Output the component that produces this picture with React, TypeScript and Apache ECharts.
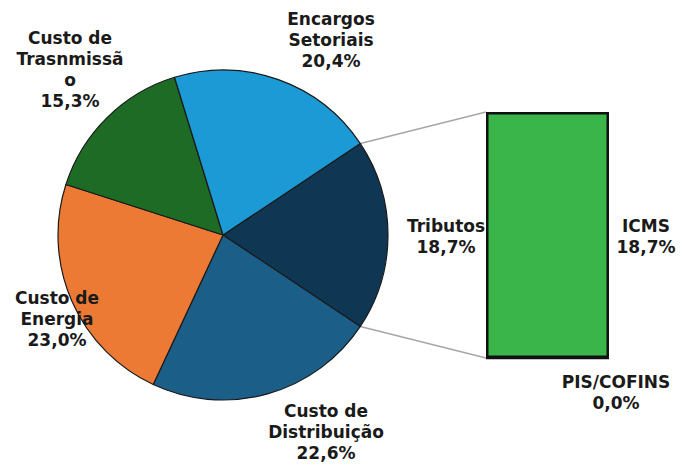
import React, { useEffect, useRef } from "react";
import * as echarts from "echarts";

// Pie categories (clockwise from the exploded "Tributos" slice)
const pieNames = [
  "Tributos",
  "Custo de\nDistribuição",
  "Custo de\nEnergia",
  "Custo de\nTrasnmissã\no",
  "Encargos\nSetoriais",
];
const pieValues = [18.7, 22.6, 23.0, 15.3, 20.4];
const pieColors = ["#0f3652", "#1b5f88", "#ec7a35", "#1e6b26", "#1b9ad6"];

// Breakdown bar of "Tributos"
const barNames = ["PIS/COFINS", "ICMS"];
const barValues = [0.0, 18.7];
const barColor = "#39b54a";

// label anchor centres (px)
const pieLabelPos = [
  [446, 236],
  [326, 432],
  [57, 319],
  [70, 69],
  [331, 40],
];
const barLabelPos = [
  [616, 392],
  [646, 236],
];

const W = 691;
const H = 465;
const CX = 223;
const CY = 235;
const R = 165;
const GRID = { left: 486, top: 112, right: 82, bottom: 107 };

const fmt = (v: number) => v.toFixed(1).replace(".", ",") + "%";

export default function App() {
  const ref = useRef<HTMLDivElement>(null);
  useEffect(() => {
    document.body.style.margin = "0";
    const chart = echarts.init(ref.current!, undefined, { renderer: "svg" });
    const total = pieValues.reduce((a, b) => a + b, 0);
    const half = (pieValues[0] / total) * 360 / 2;
    const rad = (half * Math.PI) / 180;
    const p1 = [CX + R * Math.cos(rad), CY - R * Math.sin(rad)];
    const p2 = [CX + R * Math.cos(rad), CY + R * Math.sin(rad)];
    const barTopLeft = [GRID.left, GRID.top];
    const barBotLeft = [GRID.left, H - GRID.bottom];

    const textStyle = {
      fontFamily: "DejaVu Sans",
      fontWeight: "bold" as const,
      fontSize: 17,
      lineHeight: 21,
      color: "#1a1a1a",
      align: "center" as const,
    };

    chart.setOption({
      animation: false,
      backgroundColor: "#ffffff",
      grid: { ...GRID, containLabel: false },
      xAxis: { type: "category", data: ["Tributos"], show: false },
      yAxis: { type: "value", min: 0, max: pieValues[0], show: false },
      graphic: [
        {
          type: "line",
          z: 0,
          shape: { x1: p1[0], y1: p1[1], x2: barTopLeft[0], y2: barTopLeft[1] },
          style: { stroke: "#a6a6a6", lineWidth: 1.5 },
        },
        {
          type: "line",
          z: 0,
          shape: { x1: p2[0], y1: p2[1], x2: barBotLeft[0], y2: barBotLeft[1] },
          style: { stroke: "#a6a6a6", lineWidth: 1.5 },
        },
      ],
      series: [
        {
          type: "pie",
          center: [CX, CY],
          radius: R,
          startAngle: half,
          clockwise: true,
          avoidLabelOverlap: false,
          data: pieNames.map((n, i) => ({
            name: n,
            value: pieValues[i],
            itemStyle: { color: pieColors[i] },
          })),
          itemStyle: { borderColor: "#1a1a1a", borderWidth: 1.2 },
          label: {
            show: true,
            position: "outside",
            formatter: (p: any) => `${p.name}\n${fmt(p.value)}`,
            ...textStyle,
          },
          labelLine: { show: false },
          labelLayout: (p: any) => ({
            x: pieLabelPos[p.dataIndex][0],
            y: pieLabelPos[p.dataIndex][1],
            align: "center",
            verticalAlign: "middle",
          }),
          emphasis: { disabled: true },
        },
        ...barNames.map((n, i) => ({
          type: "bar",
          name: n,
          stack: "t",
          barWidth: "100%",
          data: [barValues[i]],
          itemStyle: { color: barColor, borderColor: "#111111", borderWidth: 2.5 },
          label: {
            show: true,
            position: "inside",
            formatter: (p: any) => `${p.seriesName}\n${fmt(p.value)}`,
            ...textStyle,
          },
          labelLayout: () => ({
            x: barLabelPos[i][0],
            y: barLabelPos[i][1],
            align: "center",
            verticalAlign: "middle",
          }),
          emphasis: { disabled: true },
        })),
      ],
    });
    return () => chart.dispose();
  }, []);
  return <div ref={ref} style={{ width: W, height: H }} />;
}
